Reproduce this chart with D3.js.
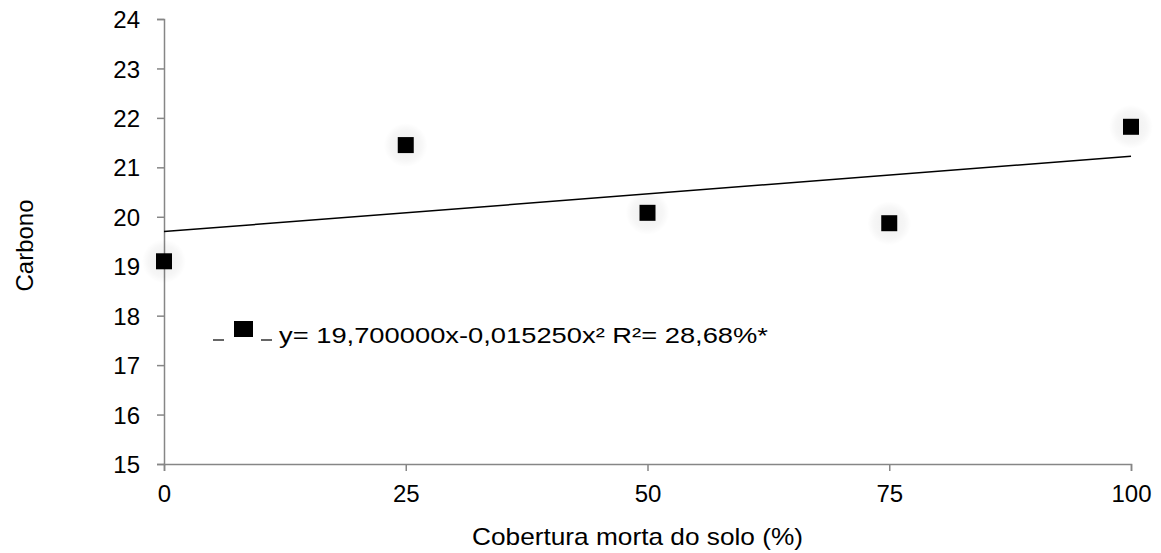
<!DOCTYPE html>
<html>
<head>
<meta charset="utf-8">
<script src="https://cdn.jsdelivr.net/npm/d3@7"></script>
<style>
  html, body { margin: 0; padding: 0; background: #fff; }
  svg { display: block; font-family: "Liberation Sans", Arial, sans-serif; }
</style>
</head>
<body>
<svg id="chart" width="1161" height="553"></svg>
<script>
// Soil mulch coverage (%) and measured carbon
const coverage = [0, 25, 50, 75, 100];
const carbon = [19.1, 21.45, 20.08, 19.87, 21.82];

// Fitted trend: intercept and slope
const fitIntercept = 19.7;
const fitSlope = 0.01525;

const xTicks = [0, 25, 50, 75, 100];
const yTicks = [15, 16, 17, 18, 19, 20, 21, 22, 23, 24];

const xTitle = "Cobertura morta do solo (%)";
const yTitle = "Carbono";
const legendText = "y= 19,700000x-0,015250x² R²= 28,68%*";

const svg = d3.select("#chart");
const axisColor = "#868686";
const fontSize = 24;

const x = d3.scaleLinear().domain([0, 100]).range([164, 1131]);
const y = d3.scaleLinear().domain([15, 24]).range([464, 19]);

// Soft halo used behind the markers
const defs = svg.append("defs");
const grad = defs.append("radialGradient").attr("id", "halo");
grad.append("stop").attr("offset", "0%").attr("stop-color", "#000").attr("stop-opacity", 0.07);
grad.append("stop").attr("offset", "70%").attr("stop-color", "#000").attr("stop-opacity", 0.035);
grad.append("stop").attr("offset", "100%").attr("stop-color", "#000").attr("stop-opacity", 0);

// Y axis
const yAxis = svg.append("g")
  .attr("transform", `translate(${x(0)},0)`)
  .call(d3.axisLeft(y).tickValues(yTicks).tickSize(7).tickPadding(17).tickFormat(d3.format("d")));
yAxis.select(".domain").attr("stroke", axisColor).attr("stroke-width", 1.5);
yAxis.selectAll(".tick line").attr("stroke", axisColor).attr("stroke-width", 1.5);
yAxis.selectAll(".tick text").attr("fill", "#000").attr("font-size", fontSize).attr("dy", "0.36em");

// X axis
const xAxis = svg.append("g")
  .attr("transform", `translate(0,${y(15)})`)
  .call(d3.axisBottom(x).tickValues(xTicks).tickSize(7).tickPadding(14).tickFormat(d3.format("d")));
xAxis.select(".domain").attr("stroke", axisColor).attr("stroke-width", 1.5);
xAxis.selectAll(".tick line").attr("stroke", axisColor).attr("stroke-width", 1.5);
xAxis.selectAll(".tick text").attr("fill", "#000").attr("font-size", fontSize);

// Trend line
const trendX = [0, 100];
svg.append("line")
  .attr("x1", x(trendX[0])).attr("y1", y(fitIntercept + fitSlope * trendX[0]))
  .attr("x2", x(trendX[1])).attr("y2", y(fitIntercept + fitSlope * trendX[1]))
  .attr("stroke", "#000").attr("stroke-width", 1.5);

// Markers
const pts = coverage.map((c, i) => ({ c, v: carbon[i] }));
svg.append("g").selectAll("circle").data(pts).join("circle")
  .attr("cx", d => x(d.c)).attr("cy", d => y(d.v)).attr("r", 22)
  .attr("fill", "url(#halo)");
svg.append("g").selectAll("rect").data(pts).join("rect")
  .attr("x", d => x(d.c) - 8).attr("y", d => y(d.v) - 8)
  .attr("width", 16).attr("height", 16).attr("fill", "#000");

// Legend
const lg = svg.append("g");
lg.append("line").attr("x1", 213).attr("x2", 224).attr("y1", 340).attr("y2", 340)
  .attr("stroke", "#000").attr("stroke-width", 1.2);
lg.append("line").attr("x1", 261).attr("x2", 272).attr("y1", 340).attr("y2", 340)
  .attr("stroke", "#000").attr("stroke-width", 1.2);
lg.append("rect").attr("x", 234).attr("y", 321).attr("width", 19).attr("height", 16).attr("fill", "#000");
lg.append("text").attr("x", 279).attr("y", 343).attr("font-size", 22).attr("fill", "#000")
  .attr("textLength", 489).attr("lengthAdjust", "spacingAndGlyphs")
  .text(legendText);

// Axis titles
svg.append("text")
  .attr("x", 472).attr("y", 545)
  .attr("font-size", fontSize).attr("fill", "#000")
  .attr("textLength", 331).attr("lengthAdjust", "spacingAndGlyphs")
  .text(xTitle);
svg.append("text")
  .attr("transform", `translate(33,245.5) rotate(-90)`)
  .attr("text-anchor", "middle").attr("font-size", fontSize).attr("fill", "#000")
  .text(yTitle);
</script>
</body>
</html>
